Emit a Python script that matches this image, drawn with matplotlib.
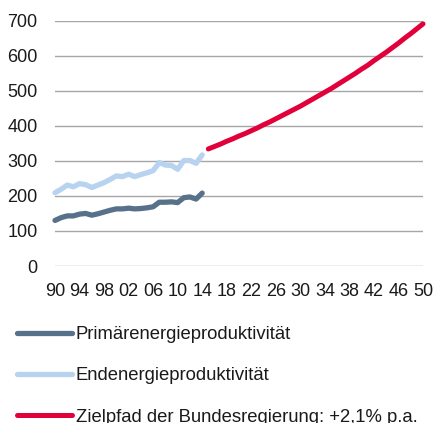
import matplotlib
matplotlib.use("Agg")
import matplotlib.pyplot as plt

plt.rcParams['font.family'] = ['Liberation Sans', 'DejaVu Sans']

years_hist = list(range(1990, 2015))
primaer = [130, 138, 143, 143, 148, 150, 145, 149, 154, 159, 163, 163, 165, 163,
           164, 166, 169, 182, 182, 183, 181, 195, 197, 191, 208]
endenergie = [209, 219, 231, 226, 235, 232, 224, 231, 238, 247, 257, 255, 262, 255,
              261, 266, 272, 295, 288, 287, 276, 301, 301, 293, 317]
years_ziel = list(range(2015, 2051))
zielpfad = [334, 341, 348, 356, 363, 371, 378, 386, 394, 403, 411, 420, 429, 438,
            447, 456, 466, 476, 486, 496, 506, 517, 528, 539, 550, 562, 573, 586,
            598, 610, 623, 636, 650, 663, 677, 691]
xticks = list(range(1990, 2051, 4))
xtick_labels = [f"{y % 100:02d}" for y in xticks]
yticks = [0, 100, 200, 300, 400, 500, 600, 700]
labels = ["Primärenergieproduktivität", "Endenergieproduktivität",
          "Zielpfad der Bundesregierung: +2,1% p.a."]

c_dark = "#58718a"
c_light = "#b7d3ef"
c_red = "#e2003b"

fig = plt.figure(figsize=(4.36, 4.23), dpi=100)
ax = fig.add_axes([55/436, 1-266/423, 368/436, (266-20.7)/423])

l1, = ax.plot(years_hist, primaer, color=c_dark, lw=3.8, solid_capstyle='round', clip_on=False, zorder=3)
l2, = ax.plot(years_hist, endenergie, color=c_light, lw=3.8, solid_capstyle='round', clip_on=False, zorder=3)
l3, = ax.plot(years_ziel, zielpfad, color=c_red, lw=3.6, solid_capstyle='round', clip_on=False, zorder=3)

ax.set_xlim(1990, 2050)
ax.set_ylim(0, 700)
ax.set_yticks(yticks)
ax.set_xticks(xticks)
ax.set_xticklabels(xtick_labels)
ax.grid(axis='y', color='#a6a6a6', lw=1.0)
ax.set_axisbelow(True)
for s in ax.spines.values():
    s.set_visible(False)
ax.tick_params(axis='both', length=0, labelsize=13, colors='#1a1a1a')
ax.tick_params(axis='y', pad=12.5)
ax.tick_params(axis='x', pad=12.5)

leg = fig.legend([l1, l2, l3], labels, loc='upper left',
                 bbox_to_anchor=(17/436, 1-326/423), frameon=False,
                 fontsize=13.3, handlelength=2.97, handletextpad=0.22,
                 labelspacing=1.32, borderaxespad=0, borderpad=0)
for t in leg.get_texts():
    t.set_color('#1a1a1a')

fig.savefig("out.png", dpi=100)
